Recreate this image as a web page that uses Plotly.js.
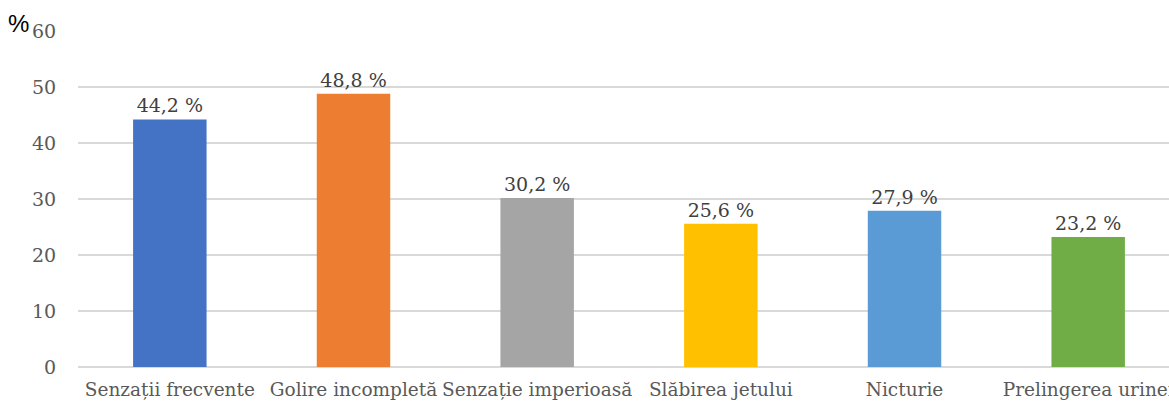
<!DOCTYPE html>
<html>
<head>
<meta charset="utf-8">
<script src="https://cdn.plot.ly/plotly-3.0.1.min.js"></script>
<style>html,body{margin:0;padding:0;background:#fff;}#chart{width:1169px;height:406px;}</style>
</head>
<body>
<div id="chart"></div>
<script>
const categories = ["Senzații frecvente", "Golire incompletă", "Senzație imperioasă", "Slăbirea jetului", "Nicturie", "Prelingerea urinei"];
const values = [44.2, 48.8, 30.2, 25.6, 27.9, 23.2];
const colors = ["#4472C4", "#ED7D31", "#A5A5A5", "#FFC000", "#5B9BD5", "#70AD47"];
const labels = values.map(v => v.toFixed(1).replace('.', ',') + ' %');

const SERIF = 'DejaVu Serif';

const trace = {
  type: 'bar',
  x: categories,
  y: values,
  marker: {color: colors},
  width: 0.40,
  text: labels,
  textposition: 'outside',
  cliponaxis: false,
  textfont: {family: SERIF, size: 19, color: '#404040'},
  hoverinfo: 'none'
};

const layout = {
  width: 1169, height: 406,
  margin: {l: 78, r: 0, t: 31, b: 39},
  paper_bgcolor: '#fff', plot_bgcolor: '#fff',
  showlegend: false,
  font: {family: SERIF, color: '#595959'},
  xaxis: {
    type: 'category',
    range: [-0.5, 5.44],
    tickangle: 0,
    tickfont: {family: SERIF, size: 18.5, color: '#595959'},
    showline: false, zeroline: false, showgrid: false,
    ticks: 'outside', ticklen: 6, tickcolor: 'rgba(0,0,0,0)'
  },
  yaxis: {
    range: [0, 60],
    dtick: 10,
    tickfont: {family: SERIF, size: 19, color: '#595959'},
    gridcolor: '#D9D9D9', gridwidth: 1.5,
    zeroline: true, zerolinecolor: '#D9D9D9', zerolinewidth: 1.5,
    ticks: 'outside', ticklen: 17, tickcolor: 'rgba(0,0,0,0)',
    showline: false
  },
  annotations: [{
    text: '%', xref: 'paper', yref: 'paper', x: 0, y: 1,
    xanchor: 'left', yanchor: 'middle', showarrow: false,
    font: {family: 'Liberation Sans', size: 24, color: '#000'},
    xshift: -72, yshift: 8
  }]
};

Plotly.newPlot('chart', [trace], layout, {displayModeBar: false, staticPlot: true});
</script>
</body>
</html>
